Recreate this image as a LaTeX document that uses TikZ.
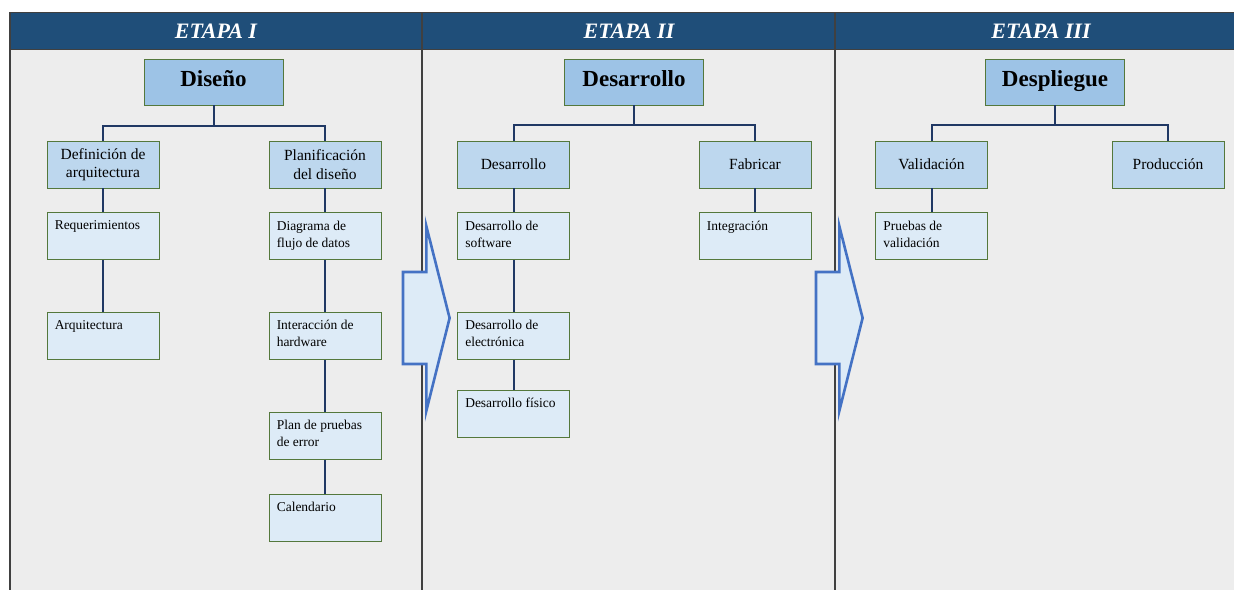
\documentclass[tikz,border=0pt]{standalone}
\usepackage{fontspec}
\setmainfont{Liberation Serif}
\usetikzlibrary{positioning}
\definecolor{fondo}{RGB}{237,237,237}
\definecolor{azuloscuro}{RGB}{31,78,121}
\definecolor{azulraiz}{RGB}{157,195,230}
\definecolor{azulrama}{RGB}{189,215,238}
\definecolor{azulhoja}{RGB}{221,235,247}
\definecolor{verdeborde}{RGB}{84,120,60}
\definecolor{enlaceazul}{RGB}{32,56,100}
\definecolor{flechaazul}{RGB}{68,114,196}
\definecolor{divisor}{RGB}{64,64,64}

\tikzset{
  raiz/.style={rectangle, draw=verdeborde, line width=0.9pt, fill=azulraiz, minimum width=139pt, minimum height=46pt, font=\fontsize{23}{26}\selectfont\bfseries, text depth=7pt},
  rama/.style={rectangle, draw=verdeborde, line width=0.9pt, fill=azulrama, minimum width=112pt, minimum height=47pt, align=center, font=\fontsize{15.5}{18.3}\selectfont},
  hoja/.style={rectangle, draw=verdeborde, line width=0.9pt, fill=azulhoja, minimum width=112pt, minimum height=47pt},
  hojatexto/.style={anchor=north west, inner xsep=8pt, inner ysep=8pt, align=left, font=\fontsize{13.5}{17}\selectfont},
  enlace/.style={draw=enlaceazul, line width=2pt},
  etapa/.style={text=white, font=\fontsize{22}{24}\selectfont\bfseries\itshape},
  flecha/.style={draw=flechaazul, line width=2.6pt, fill=azulhoja, line join=miter}
}

\begin{document}
\begin{tikzpicture}[x=1pt, y=-1pt]
\useasboundingbox (0,0) rectangle (1234,590);

% fondo y cabecera
\fill[fondo] (10,12) rectangle (1234,590);
\fill[azuloscuro] (10,12) rectangle (1234,49);
\draw[divisor, line width=1pt] (10,12) -- (1234,12);
\draw[divisor, line width=1pt] (10,49) -- (1234,49);
\draw[divisor, line width=1.4pt] (10,12) -- (10,590);
\foreach \x in {422,835}
  \draw[divisor, line width=1.6pt] (\x,12) -- (\x,590);

\node[etapa] (etapa1) at (216,31) {ETAPA I};
\node[etapa] (etapa2) at (629,31) {ETAPA II};
\node[etapa] (etapa3) at (1041,31) {ETAPA III};

% flechas entre etapas
\foreach \x in {403,816}
  \draw[flecha] (\x,272) -- ++(23.3,0) -- ++(0,-46) -- ++(23.3,92) -- ++(-23.3,93) -- ++(0,-47) -- ++(-23.3,0) -- cycle;

% etapa I
\node[raiz] (diseno) at (213.5,82) {Diseño};
\node[rama] (defarq) at (103,164.5) {Definición de\\arquitectura};
\node[rama] (plandis) at (325,164.5) {Planificación\\del diseño};
\node[hoja, below=24pt of defarq, label={[hojatexto]north west:{Requerimientos}}] (req) {};
\node[hoja, below=52pt of req, label={[hojatexto]north west:{Arquitectura}}] (arq) {};
\node[hoja, below=24pt of plandis, label={[hojatexto]north west:{Diagrama de\\flujo de datos}}] (diagflujo) {};
\node[hoja, below=52pt of diagflujo, label={[hojatexto]north west:{Interacción de\\hardware}}] (interhw) {};
\node[hoja, below=51.5pt of interhw, label={[hojatexto]north west:{Plan de pruebas\\de error}}] (planpru) {};
\node[hoja, below=34pt of planpru, label={[hojatexto]north west:{Calendario}}] (calend) {};

\draw[enlace] (diseno.south) -- ++(0,21) -| (defarq.north);
\draw[enlace] (diseno.south) -- ++(0,21) -| (plandis.north);
\draw[enlace] (defarq) -- (req);
\draw[enlace] (req) -- (arq);
\draw[enlace] (plandis) -- (diagflujo);
\draw[enlace] (diagflujo) -- (interhw);
\draw[enlace] (interhw) -- (planpru);
\draw[enlace] (planpru) -- (calend);

% etapa II
\node[raiz] (desarrollo) at (634,82) {Desarrollo};
\node[rama] (desrama) at (513.5,164.5) {Desarrollo};
\node[rama] (fabricar) at (755,164.5) {Fabricar};
\node[hoja, below=24pt of desrama, label={[hojatexto]north west:{Desarrollo de\\software}}] (dessoft) {};
\node[hoja, below=52pt of dessoft, label={[hojatexto]north west:{Desarrollo de\\electrónica}}] (deselec) {};
\node[hoja, below=30pt of deselec, label={[hojatexto]north west:{Desarrollo físico}}] (desfis) {};
\node[hoja, below=24pt of fabricar, label={[hojatexto]north west:{Integración}}] (integra) {};

\draw[enlace] (desarrollo.south) -- ++(0,20) -| (desrama.north);
\draw[enlace] (desarrollo.south) -- ++(0,20) -| (fabricar.north);
\draw[enlace] (desrama) -- (dessoft);
\draw[enlace] (dessoft) -- (deselec);
\draw[enlace] (deselec) -- (desfis);
\draw[enlace] (fabricar) -- (integra);

% etapa III
\node[raiz] (despliegue) at (1055,82) {Despliegue};
\node[rama] (validacion) at (931.5,164.5) {Validación};
\node[rama] (produccion) at (1168,164.5) {Producción};
\node[hoja, below=24pt of validacion, label={[hojatexto]north west:{Pruebas de\\validación}}] (pruval) {};

\draw[enlace] (despliegue.south) -- ++(0,20) -| (validacion.north);
\draw[enlace] (despliegue.south) -- ++(0,20) -| (produccion.north);
\draw[enlace] (validacion) -- (pruval);
\end{tikzpicture}
\end{document}
